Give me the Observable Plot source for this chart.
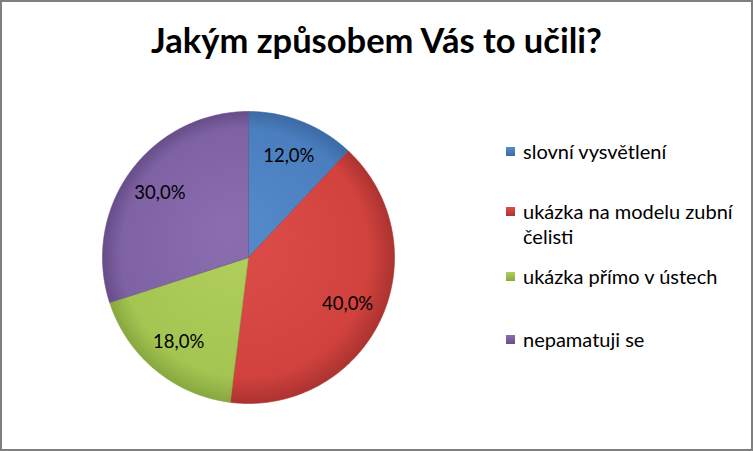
<!DOCTYPE html>
<html><head><meta charset="utf-8">
<script src="https://cdn.jsdelivr.net/npm/d3@7"></script>
<script src="https://cdn.jsdelivr.net/npm/@observablehq/plot@0.6"></script>
<style>
body{margin:0;background:#fff;}
#chart{position:relative;width:753px;height:451px;overflow:hidden;font-family:Lato,"Open Sans",sans-serif;background:#fff;}
#frame{position:absolute;left:0;top:0;width:753px;height:451px;box-sizing:border-box;border:2px solid #7f7f7f;pointer-events:none;}
#title{position:absolute;left:0;width:753px;top:19px;text-align:center;font-weight:bold;font-size:34.5px;line-height:42px;color:#000;}
#plot{position:absolute;left:0;top:0;}
.lg{position:absolute;left:506px;font-size:20px;line-height:25px;color:#000;}
.lg .sw{position:absolute;left:0;top:8px;width:9px;height:9px;}
.lg .tx{position:absolute;left:17px;top:0;width:222px;}
</style>
</head><body>
<div id="chart">
  <div id="title"></div>
  <div id="plot"></div>
  <div id="legend"></div>
  <div id="frame"></div>
</div>
<script>
const title = "Jakým způsobem Vás to učili?";
const categories = ["slovní vysvětlení", "ukázka na modelu zubní čelisti", "ukázka přímo v ústech", "nepamatuji se"];
const values = [12, 40, 18, 30];
const valueLabels = ["12,0%", "40,0%", "18,0%", "30,0%"];
const palette = [
  ["#568BCC", "#4A7EBE", "#3C6AA4"],
  ["#DE4D49", "#D1423E", "#AC3330"],
  ["#B2D05E", "#A4C552", "#88A83F"],
  ["#8A6EAF", "#7F62A4", "#674D89"]
];

document.getElementById("title").textContent = title;

// pie geometry (unit circle, y up), derived from the values
const arcs = d3.pie().sort(null).value(d => d)(values);
const slicePts = [];
arcs.forEach((a, i) => {
  const n = Math.max(2, Math.ceil((a.endAngle - a.startAngle) / 0.01));
  slicePts.push({k: i, x: 0, y: 0});
  for (let j = 0; j <= n; j++) {
    const t = a.startAngle + (a.endAngle - a.startAngle) * j / n;
    slicePts.push({k: i, x: Math.sin(t), y: Math.cos(t)});
  }
  slicePts.push({k: i, x: 0, y: 0});
});
const labelPts = arcs.map((a, i) => {
  const m = (a.startAngle + a.endAngle) / 2;
  return {label: valueLabels[i], x: 0.75 * Math.sin(m), y: 0.75 * Math.cos(m)};
});

const W = 753, H = 451, cx = 248, cy = 257, R = 146;

const defs = (index, scales) => {
  const d = d3.create("svg:defs");
  const px = scales.x(0), py = scales.y(0), pr = scales.x(1) - scales.x(0);
  palette.forEach((c, i) => {
    const g = d.append("radialGradient").attr("id", "sg" + i)
      .attr("gradientUnits", "userSpaceOnUse")
      .attr("cx", px).attr("cy", py).attr("r", pr)
      .attr("fx", px - pr * 0.15).attr("fy", py - pr * 0.2);
    g.append("stop").attr("offset", "0%").attr("stop-color", c[0]);
    g.append("stop").attr("offset", "85%").attr("stop-color", c[1]);
    g.append("stop").attr("offset", "100%").attr("stop-color", c[2]);
  });
  return d.node();
};

const plot = Plot.plot({
  width: W, height: H,
  margin: 0,
  x: {domain: [-cx / R, (W - cx) / R], axis: null},
  y: {domain: [-(H - cy) / R, cy / R], axis: null},
  style: {background: "transparent", overflow: "visible"},
  marks: [
    defs,
    ...arcs.map((a, i) => Plot.line(slicePts.filter(p => p.k === i), {
      x: "x", y: "y", fill: `url(#sg${i})`, stroke: palette[i][2], strokeWidth: 0.6, curve: "linear"
    })),
    Plot.text(labelPts, {
      x: "x", y: "y", text: "label", fontSize: 18.5, fill: "#000",
      fontFamily: "Lato, 'Open Sans', sans-serif"
    })
  ]
});
document.getElementById("plot").appendChild(plot);

// legend
const rowTops = [139, 199, 264, 327];
const lg = document.getElementById("legend");
categories.forEach((c, i) => {
  const row = document.createElement("div");
  row.className = "lg";
  row.style.top = rowTops[i] + "px";
  const sw = document.createElement("div");
  sw.className = "sw";
  sw.style.background = `linear-gradient(${palette[i][0]}, ${palette[i][2]})`;
  const tx = document.createElement("div");
  tx.className = "tx";
  tx.textContent = c;
  row.appendChild(sw); row.appendChild(tx);
  lg.appendChild(row);
});
</script>
</body></html>
